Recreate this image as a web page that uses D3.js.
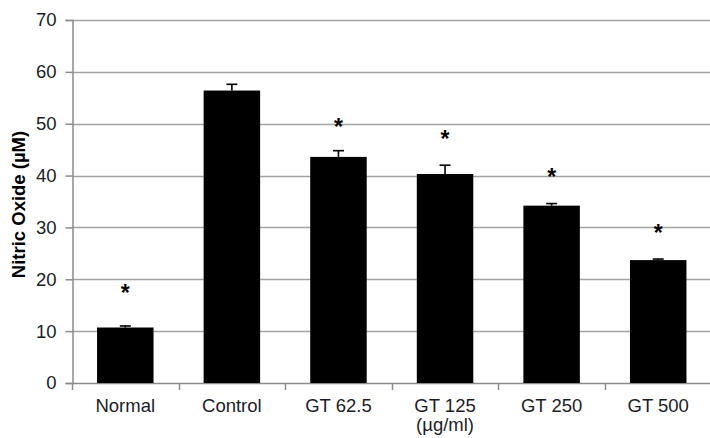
<!DOCTYPE html>
<html>
<head>
<meta charset="utf-8">
<script src="https://cdn.jsdelivr.net/npm/d3@7/dist/d3.min.js"></script>
<style>
  html, body { margin: 0; padding: 0; background: #fff; }
  svg { display: block; font-family: "Liberation Sans", Arial, sans-serif; }
</style>
</head>
<body>
<svg id="chart" width="710" height="438"></svg>
<script>
// Nitric oxide production per treatment group
const categories = ["Normal", "Control", "GT 62.5", "GT 125", "GT 250", "GT 500"];
const values     = [10.7, 56.4, 43.6, 40.3, 34.2, 23.7];
const errors     = [0.3, 1.2, 1.2, 1.7, 0.4, 0.2];
// level (µM) at which the significance asterisk sits; null = no marker
const sigLevels  = [17.9, null, 49.9, 47.5, 40.2, 29.5];
const yTicks     = [0, 10, 20, 30, 40, 50, 60, 70];
const yTitle     = "Nitric Oxide (µM)";
const unitNote   = "(µg/ml)";

(function () {
  const svg = d3.select("#chart");
  const mLeft = 72, mRight = 711.5, mTop = 20, mBottom = 383;

  const x = d3.scaleBand().domain(categories).range([mLeft, mRight]).padding(0);
  const y = d3.scaleLinear().domain([0, 70]).range([mBottom, mTop]);
  const barW = x.bandwidth() * 0.53;

  const gridColor = "#a3a3a3";
  const axisColor = "#8c8c8c";
  const textColor = "#1c1c28";

  // horizontal gridlines
  svg.append("g")
    .selectAll("line")
    .data(yTicks.filter(t => t > 0))
    .join("line")
    .attr("x1", mLeft).attr("x2", 710)
    .attr("y1", d => Math.round(y(d)) + 0.5)
    .attr("y2", d => Math.round(y(d)) + 0.5)
    .attr("stroke", gridColor).attr("stroke-width", 1.5);

  // y axis
  const yAxis = svg.append("g")
    .attr("transform", `translate(${mLeft + 0.5},0)`)
    .call(d3.axisLeft(y).tickValues(yTicks).tickSize(7).tickPadding(9));
  yAxis.select(".domain").attr("stroke", axisColor).attr("stroke-width", 1.5);
  yAxis.selectAll(".tick line").attr("stroke", axisColor).attr("stroke-width", 1.5);
  yAxis.selectAll(".tick text")
    .attr("fill", textColor).attr("font-size", "18.5px")
    .attr("font-family", "Liberation Sans, Arial, sans-serif");

  // x axis: ticks at category boundaries, labels at centres
  const xAxis = svg.append("g");
  xAxis.append("line")
    .attr("x1", mLeft).attr("x2", 710)
    .attr("y1", mBottom + 0.5).attr("y2", mBottom + 0.5)
    .attr("stroke", axisColor).attr("stroke-width", 1.5);
  const bounds = categories.map(c => x(c)).concat([x(categories[categories.length - 1]) + x.bandwidth()]);
  xAxis.selectAll("line.bt")
    .data(bounds)
    .join("line").attr("class", "bt")
    .attr("x1", d => Math.round(d) + 0.5).attr("x2", d => Math.round(d) + 0.5)
    .attr("y1", mBottom).attr("y2", mBottom + 7)
    .attr("stroke", axisColor).attr("stroke-width", 1.5);
  xAxis.selectAll("text.cat")
    .data(categories)
    .join("text").attr("class", "cat")
    .attr("x", d => x(d) + x.bandwidth() / 2)
    .attr("y", 412)
    .attr("text-anchor", "middle")
    .attr("fill", textColor).attr("font-size", "18.5px")
    .text(d => d);
  xAxis.append("text")
    .attr("x", x("GT 125") + x.bandwidth() / 2)
    .attr("y", 431)
    .attr("text-anchor", "middle")
    .attr("fill", textColor).attr("font-size", "18.5px")
    .text(unitNote);

  // bars
  const data = categories.map((c, i) => ({ c, v: values[i], e: errors[i], s: sigLevels[i] }));
  svg.append("g")
    .selectAll("rect")
    .data(data)
    .join("rect")
    .attr("x", d => x(d.c) + (x.bandwidth() - barW) / 2)
    .attr("width", barW)
    .attr("y", d => y(d.v))
    .attr("height", d => y(0) - y(d.v))
    .attr("fill", "#000");

  // upper error bars
  const eb = svg.append("g").attr("stroke", "#000").attr("stroke-width", 1.6);
  eb.selectAll("line.v")
    .data(data).join("line").attr("class", "v")
    .attr("x1", d => x(d.c) + x.bandwidth() / 2)
    .attr("x2", d => x(d.c) + x.bandwidth() / 2)
    .attr("y1", d => y(d.v))
    .attr("y2", d => y(d.v + d.e));
  eb.selectAll("line.cap")
    .data(data).join("line").attr("class", "cap")
    .attr("x1", d => x(d.c) + x.bandwidth() / 2 - 5.5)
    .attr("x2", d => x(d.c) + x.bandwidth() / 2 + 5.5)
    .attr("y1", d => y(d.v + d.e))
    .attr("y2", d => y(d.v + d.e));

  // significance asterisks
  svg.append("g")
    .selectAll("text")
    .data(data.filter(d => d.s != null))
    .join("text")
    .attr("x", d => x(d.c) + x.bandwidth() / 2)
    .attr("y", d => y(d.s) + 10.5)
    .attr("text-anchor", "middle")
    .attr("font-size", "23px").attr("font-weight", "bold")
    .attr("fill", "#000")
    .text("*");

  // y axis title
  svg.append("text")
    .attr("transform", `translate(25,${(mTop + mBottom) / 2 + 3}) rotate(-90)`)
    .attr("text-anchor", "middle")
    .attr("font-size", "18.5px").attr("font-weight", "bold")
    .attr("fill", "#000")
    .text(yTitle);
})();
</script>
</body>
</html>
